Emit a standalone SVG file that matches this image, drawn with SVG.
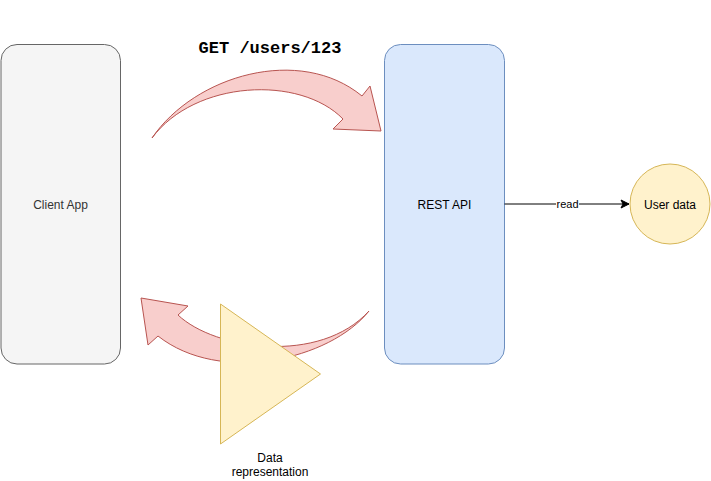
<svg xmlns="http://www.w3.org/2000/svg" width="711" height="481" viewBox="0 0 711 481">
<style>
.lbl{font-family:"Liberation Sans",Arial,Helvetica,sans-serif;font-size:12px;text-anchor:middle}
.flow{fill:#f8cecc;stroke:#b85450;stroke-width:1;stroke-linejoin:miter}
.yel{fill:#fff2cc;stroke:#d6b656;stroke-width:1}
</style>
<defs>
<marker id="arr" viewBox="0 0 10 10" refX="9" refY="5" markerWidth="10" markerHeight="10" markerUnits="userSpaceOnUse" orient="auto">
<path d="M1,1 L9,5 L1,9 L3,5 Z" fill="#000" stroke="#000" stroke-width="1"/>
</marker>
</defs>
<rect width="711" height="481" fill="#ffffff"/>
<g id="client-app">
<rect x="1" y="44.5" width="119.5" height="319.5" rx="16" ry="16" fill="#f5f5f5" stroke="#666666"/>
<text class="lbl" x="60.5" y="208.5" fill="#333333">Client App</text>
</g>
<g id="rest-api">
<rect x="384.5" y="44.5" width="120" height="319.5" rx="16" ry="16" fill="#dae8fc" stroke="#6c8ebf"/>
<text class="lbl" x="444.5" y="208.5" fill="#000000">REST API</text>
</g>
<g id="user-data">
<circle cx="670" cy="204" r="40" class="yel"/>
<text class="lbl" x="670" y="208.5" fill="#000000">User data</text>
</g>
<g id="request-arrow">
<path class="flow" d="M152,138 C195,75 300,45 362,96 L370,86 L381,131 L333,129 L343,119 C300,75 195,80 152,138 Z"/>
<text x="270" y="53" text-anchor="middle" font-family="'Liberation Mono','Courier New',monospace" font-weight="bold" font-size="17" fill="#000000">GET /users/123</text>
</g>
<g id="response-arrow">
<path class="flow" d="M369,311 C330,360 220,385 158,336 L148,345 L141,298 L188,306 L178,315 C215,350 320,365 369,311 Z"/>
</g>
<g id="data-representation">
<polygon points="220.5,304 320.5,374 220.5,444" class="yel"/>
<text class="lbl" x="270" y="462" fill="#000000">Data</text>
<text class="lbl" x="270" y="476" fill="#000000">representation</text>
</g>
<g id="connectors">
<line x1="504.5" y1="204" x2="629" y2="204" stroke="#000000" stroke-width="1" marker-end="url(#arr)"/>
<rect x="556" y="197" width="23" height="14" fill="#ffffff"/>
<text x="567.5" y="208" text-anchor="middle" font-family="'Liberation Sans',Arial,sans-serif" font-size="11" fill="#000000">read</text>
</g>
</svg>
